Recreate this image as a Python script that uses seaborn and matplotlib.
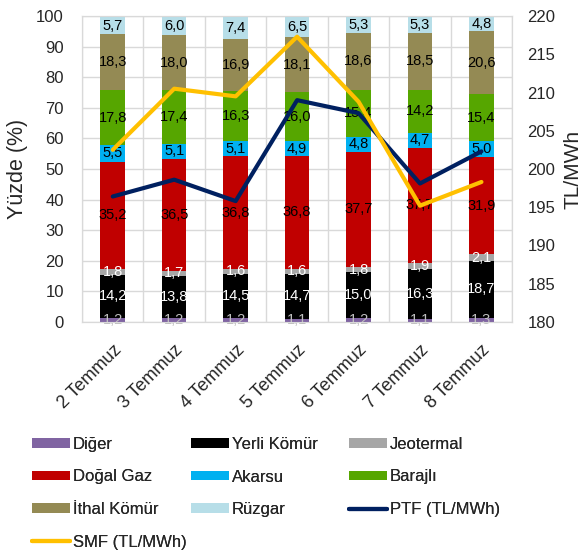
import numpy as np
import matplotlib
matplotlib.use("Agg")
import matplotlib.pyplot as plt
from matplotlib.lines import Line2D
from matplotlib.patches import Patch
import seaborn as sns

DAYS = ["2 Temmuz", "3 Temmuz", "4 Temmuz", "5 Temmuz", "6 Temmuz", "7 Temmuz", "8 Temmuz"]

diger    = [1.2, 1.2, 1.2, 1.1, 1.2, 1.1, 1.3]
yerli    = [14.2, 13.8, 14.5, 14.7, 15.0, 16.3, 18.7]
jeoterm  = [1.8, 1.7, 1.6, 1.6, 1.8, 1.9, 2.1]
dogalgaz = [35.2, 36.5, 36.8, 36.8, 37.7, 37.7, 31.9]
akarsu   = [5.5, 5.1, 5.1, 4.9, 4.8, 4.7, 5.0]
barajli  = [17.8, 17.4, 16.3, 16.0, 15.4, 14.2, 15.4]
ithal    = [18.3, 18.0, 16.9, 18.1, 18.6, 18.5, 20.6]
ruzgar   = [5.7, 6.0, 7.4, 6.5, 5.3, 5.3, 4.8]

ptf = [196.4, 198.6, 195.8, 209.0, 207.3, 198.1, 202.3]
smf = [202.5, 210.5, 209.5, 217.3, 208.8, 195.2, 198.3]

LAYERS = [
    ("Diğer",       diger,    "#8064A2", "#BFBFBF"),
    ("Yerli Kömür", yerli,    "#000000", "white"),
    ("Jeotermal",   jeoterm,  "#A6A6A6", "white"),
    ("Doğal Gaz",   dogalgaz, "#C00000", "black"),
    ("Akarsu",      akarsu,   "#00B0F0", "black"),
    ("Barajlı",     barajli,  "#56A600", "black"),
    ("İthal Kömür", ithal,    "#948A54", "black"),
    ("Rüzgar",      ruzgar,   "#B7DEE8", "black"),
]
PTF_C = "#002060"
SMF_C = "#FFC000"
GRID = "#D9D9D9"

sns.set_style("white")
plt.rcParams["font.family"] = ["Liberation Sans", "DejaVu Sans"]

fig = plt.figure(figsize=(5.86, 5.54), dpi=100)
ax = fig.add_axes([0.14, 0.419, 0.734, 0.552])

x = np.arange(len(DAYS))
bottom = np.zeros(len(DAYS))
for name, vals, color, tcol in LAYERS:
    vals = np.array(vals)
    sns.barplot(x=DAYS, y=vals, bottom=bottom, color=color, width=0.4,
                saturation=1, ax=ax, zorder=3, linewidth=0)
    for xi, b, v in zip(x, bottom, vals):
        ax.text(xi, b + v / 2, f"{v:.1f}".replace(".", ","), ha="center", va="center",
                fontsize=10.5, color=tcol, zorder=5, clip_on=False)
    bottom += vals

ax.set_xlim(-0.5, len(DAYS) - 0.5)
ax.set_ylim(0, 100)
ax.set_yticks(range(0, 101, 10))
ax.set_xticks(x)
ax.set_xticklabels(DAYS, rotation=45, ha="right", rotation_mode="anchor", fontsize=13)
ax.set_xticks(np.arange(-0.5, len(DAYS), 1), minor=True)
ax.grid(False)
ax.yaxis.grid(True, color=GRID, linewidth=1, zorder=0)
ax.xaxis.grid(True, which="minor", color=GRID, linewidth=1, zorder=0)
ax.set_axisbelow(True)
ax.tick_params(axis="both", which="both", length=0)
ax.tick_params(axis="y", labelsize=12, pad=13)
ax.tick_params(axis="x", pad=14)
ax.set_ylabel("Yüzde (%)", fontsize=15.5, labelpad=6)
ax.set_xlabel("")
for s in ax.spines.values():
    s.set_color(GRID)

ax2 = ax.twinx()
sns.lineplot(x=x, y=ptf, color=PTF_C, linewidth=3, ax=ax2, zorder=6)
sns.lineplot(x=x, y=smf, color=SMF_C, linewidth=3, ax=ax2, zorder=6)
ax2.set_ylim(180, 220)
ax2.set_yticks(range(180, 221, 5))
ax2.tick_params(axis="y", length=0, labelsize=12, pad=11)
ax2.set_ylabel("TL/MWh", fontsize=15, labelpad=6)
for s in ax2.spines.values():
    s.set_color(GRID)
ax2.grid(False)

h = {name: Patch(facecolor=color, edgecolor="none") for name, _, color, _ in LAYERS}
h["PTF (TL/MWh)"] = Line2D([], [], color=PTF_C, linewidth=3)
h["SMF (TL/MWh)"] = Line2D([], [], color=SMF_C, linewidth=3)
columns = [
    (32, ["Diğer", "Doğal Gaz", "İthal Kömür", "SMF (TL/MWh)"]),
    (191, ["Yerli Kömür", "Akarsu", "Rüzgar"]),
    (349, ["Jeotermal", "Barajlı", "PTF (TL/MWh)"]),
]
for xpix, names in columns:
    leg = fig.legend([h[k] for k in names], names, loc="upper left",
                     bbox_to_anchor=(xpix / 586, 1 - 437 / 554), frameon=False,
                     fontsize=12, handlelength=2.3, handleheight=0.5,
                     handletextpad=0.15, labelspacing=1.05,
                     borderpad=0, borderaxespad=0)
    fig.add_artist(leg)

fig.savefig("out.png", dpi=100)
